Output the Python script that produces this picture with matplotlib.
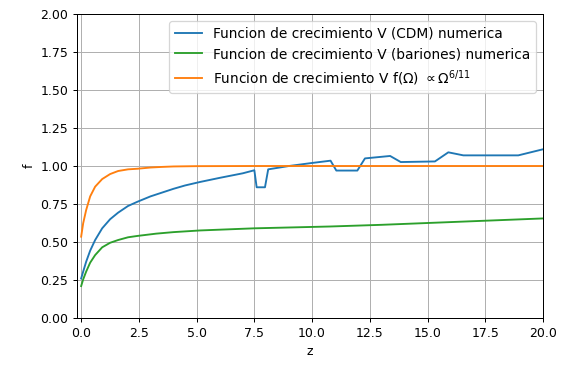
import numpy as np
import matplotlib
matplotlib.use("Agg")
import matplotlib.pyplot as plt

# Valores
z_cdm = [0.0, 0.087, 0.216, 0.39, 0.606, 0.91, 1.255, 1.6, 2.03, 2.44, 3.0, 3.5,
         4.0, 4.5, 5.15, 6.0, 7.0, 7.5, 7.6, 7.96, 8.1, 9.0, 10.0, 10.8, 11.05,
         11.96, 12.29, 13.38, 13.84, 15.32, 15.9, 16.55, 18.93, 20.0]
f_cdm = [0.26, 0.305, 0.37, 0.443, 0.513, 0.59, 0.65, 0.693, 0.737, 0.765, 0.80, 0.825,
         0.85, 0.872, 0.895, 0.922, 0.952, 0.972, 0.86, 0.86, 0.978, 1.0, 1.02, 1.035, 0.97,
         0.97, 1.05, 1.066, 1.026, 1.03, 1.09, 1.07, 1.07, 1.11]

z_bar = [0.0, 0.087, 0.216, 0.39, 0.606, 0.91, 1.255, 1.6, 2.03, 2.44, 3.25, 4.0,
         5.15, 7.5, 10.78, 13.0, 15.0, 17.5, 20.0]
f_bar = [0.21, 0.254, 0.305, 0.364, 0.414, 0.465, 0.495, 0.513, 0.531, 0.54, 0.555, 0.565,
         0.576, 0.59, 0.602, 0.613, 0.625, 0.64, 0.655]

z_om = [0.0, 0.087, 0.216, 0.39, 0.606, 0.91, 1.255, 1.6, 2.03, 2.44, 3.0, 3.5,
        4.0, 5.0, 7.5, 10.0, 15.0, 20.0]
f_om = [0.535, 0.623, 0.71, 0.80, 0.864, 0.914, 0.947, 0.967, 0.978, 0.982, 0.99, 0.994,
        0.997, 0.999, 1.0, 1.0, 1.0, 1.0]

fig = plt.figure(figsize=(569/90, 367/90), dpi=90)
ax = fig.add_axes([77/569, 1-318/367, (543-77)/569, (318-14)/367])

ax.plot(z_cdm, f_cdm, color='tab:blue', label='Funcion de crecimiento V (CDM) numerica')
ax.plot(z_bar, f_bar, color='tab:green', label='Funcion de crecimiento V (bariones) numerica')
ax.plot(z_om, f_om, color='tab:orange',
        label=r'Funcion de crecimiento V f($\Omega$) $\propto \Omega^{6/11}$')

ax.set_xlim(-0.18, 20)
ax.set_ylim(0, 2)
ax.set_xlabel('z')
ax.set_ylabel('f')
ax.grid()
ax.legend(loc='upper right', fontsize=11)

fig.savefig('out.png', dpi=90)
